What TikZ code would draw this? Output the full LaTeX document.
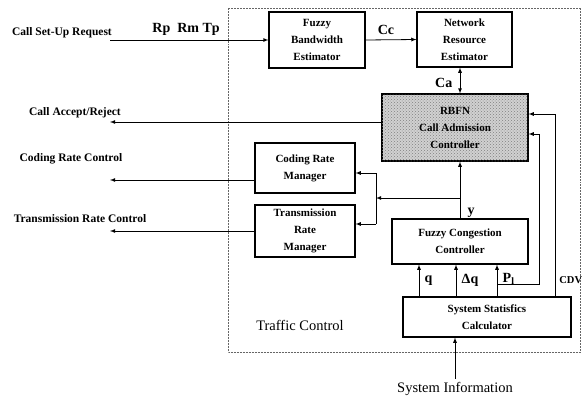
\documentclass[tikz,border=0pt]{standalone}
\usepackage{fontspec}
\setmainfont{Liberation Serif}
\usetikzlibrary{patterns}

\begin{document}
\begin{tikzpicture}[x=1pt, y=-1pt, >=latex, line width=0.8pt,
    box/.style={draw, line width=1.1pt, align=center, inner sep=0pt,
      font=\bfseries\fontsize{11}{17}\selectfont},
    lbl/.style={font=\bfseries\fontsize{11.5}{13}\selectfont},
    sym/.style={font=\bfseries\fontsize{14}{16}\selectfont}]
    \useasboundingbox (0,0) rectangle (585,404);
    \draw[densely dotted, line width=0.5pt, black!60] (228,8) rectangle (580,352);

    % blocks
    \node[box, minimum width=96pt, minimum height=56pt] (fbe) at (317,40) {Fuzzy\\Bandwidth\\Estimator};
    \node[box, minimum width=95pt, minimum height=55pt] (nre) at (464.5,39.5) {Network\\Resource\\Estimator};
    \node[box, minimum width=146pt, minimum height=67pt, fill=black!18,
      postaction={pattern=crosshatch dots, pattern color=black!50}] (rbfn) at (455,127.5) {RBFN\\Call Admission\\Controller};
    \node[box, minimum width=100pt, minimum height=50pt] (crm) at (305,168) {Coding Rate\\Manager};
    \node[box, minimum width=100pt, minimum height=52pt] (trm) at (305,231) {Transmission\\Rate\\Manager};
    \node[box, minimum width=136pt, minimum height=45pt] (fcc) at (460,241.5) {Fuzzy Congestion\\Controller};
    \node[box, minimum width=168pt, minimum height=40pt] (ssc) at (487,317) {System Statisfics\\Calculator};

    % outside texts
    \node[lbl] (csr) at (62,33) {Call Set-Up Request};
    \node[lbl] (car) at (75,113) {Call Accept/Reject};
    \node[lbl] (crc) at (71,159) {Coding Rate Control};
    \node[lbl] (trc) at (80,219) {Transmission Rate Control};
    \node[font=\fontsize{14.5}{16}\selectfont] (tc) at (300,325) {Traffic Control};
    \node[font=\fontsize{14.5}{16}\selectfont] (sysinfo) at (455,389) {System Information};

    \coordinate (in1) at (110,40);
    \coordinate (out1) at (110,122);
    \coordinate (out2) at (110,180);
    \coordinate (out3) at (110,231);
    \coordinate (br) at (376,198);
    \coordinate (j1) at (376,173);
    \coordinate (j2) at (376,224);
    \coordinate (yb) at (460,198);
    \coordinate (xq) at (419,280);
    \coordinate (xdq) at (456,280);
    \coordinate (p1) at (497,284);
    \coordinate (p2) at (539,134);
    \coordinate (c2) at (555,114);

    % connectors
    \draw[->] (in1) -- (fbe.west) node[pos=0.48, above=1pt, sym] {Rp\ \ Rm Tp};
    \draw[->] (fbe.east) -- (nre.west) node[pos=0.4, above=1pt, sym] {Cc};
    \draw[<->] (nre.south -| yb) -- (rbfn.north -| yb) node[pos=0.6, left=4pt, sym] {Ca};
    \draw[->] (rbfn.west |- out1) -- (out1);
    \draw[->] (crm.west |- out2) -- (out2);
    \draw[->] (trm.west |- out3) -- (out3);
    \draw[->] (fcc.north) -- (fcc.north |- rbfn.south) node[pos=0.1, right=4pt, sym] {y};
    \draw[->] (yb) -- (br);
    \draw (j1) -- (j2);
    \draw[->] (j1) -- (crm.east |- j1);
    \draw[->] (j2) -- (trm.east |- j2);
    \draw[->] (ssc.north -| xq) -- (fcc.south -| xq) node[pos=0.5, right=2pt, sym] {q};
    \draw[->] (ssc.north -| xdq) -- (fcc.south -| xdq) node[pos=0.5, right=2pt, sym] {Δq};
    \draw[->] (ssc.north -| p1) -- (fcc.south -| p1) node[pos=0.55, right=2pt, sym] {P\textsubscript{l}};
    \draw[->] (p1) -| (p2) -- (rbfn.east |- p2);
    \draw[->] (ssc.north -| c2) -- (c2) -- (rbfn.east |- c2);
    \node[anchor=west, inner sep=0pt, font=\bfseries\fontsize{10.5}{12}\selectfont] (cdv) at (559,280) {CDV};
    \draw[->] (sysinfo.north) -- (ssc.south -| sysinfo.north);
\end{tikzpicture}
\end{document}
